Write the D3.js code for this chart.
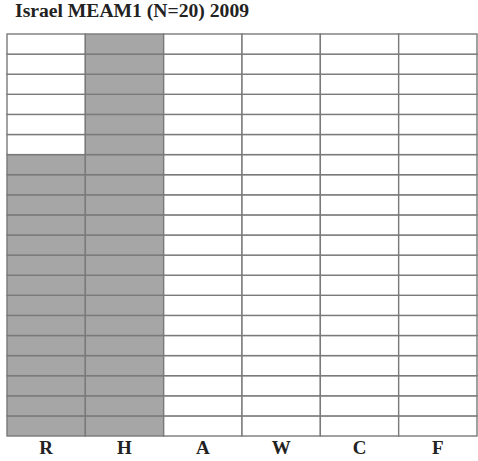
<!DOCTYPE html>
<html>
<head>
<meta charset="utf-8">
<script src="https://cdn.jsdelivr.net/npm/d3@7"></script>
<style>
  html, body { margin: 0; padding: 0; background: #fff; }
  svg { display: block; }
</style>
</head>
<body>
<svg id="chart" width="478" height="461"></svg>
<script>
const title = "Israel MEAM1 (N=20) 2009";
const categories = ["R", "H", "A", "W", "C", "F"];
const values = [14, 20, 0, 0, 0, 0];
const total = 20;

const svg = d3.select("#chart");
const margin = { left: 7, top: 34, right: 1, bottom: 25 };
const W = 478, H = 461;

const x = d3.scaleBand().domain(categories).range([margin.left, W - margin.right]).padding(0);
const y = d3.scaleLinear().domain([0, total]).range([H - margin.bottom, margin.top]);

const rows = d3.range(total);
const cells = [];
categories.forEach((c, i) => {
  rows.forEach(r => cells.push({ cat: c, row: r, filled: r < values[i] }));
});

svg.append("g").selectAll("rect").data(cells).join("rect")
  .attr("x", d => x(d.cat))
  .attr("y", d => y(d.row + 1))
  .attr("width", x.bandwidth())
  .attr("height", y(0) - y(1))
  .attr("fill", d => d.filled ? "#a6a6a6" : "#ffffff")
  .attr("stroke", "#7a7a7a")
  .attr("stroke-width", 1.4);

svg.append("text")
  .attr("x", 15).attr("y", 17)
  .attr("font-family", "'Liberation Serif', 'Times New Roman', serif")
  .attr("font-weight", "bold")
  .attr("font-size", 18.5)
  .attr("textLength", 234)
  .attr("lengthAdjust", "spacingAndGlyphs")
  .attr("fill", "#222")
  .text(title);

const xAxis = d3.axisBottom(x).tickSize(0).tickPadding(0);
const ax = svg.append("g").attr("transform", `translate(0,${H - margin.bottom})`).call(xAxis);
ax.select(".domain").remove();
ax.selectAll("text")
  .attr("dy", 0)
  .attr("y", 18)
  .attr("font-family", "'Liberation Serif', 'Times New Roman', serif")
  .attr("font-weight", "bold")
  .attr("font-size", 19)
  .attr("fill", "#222");
</script>
</body>
</html>
